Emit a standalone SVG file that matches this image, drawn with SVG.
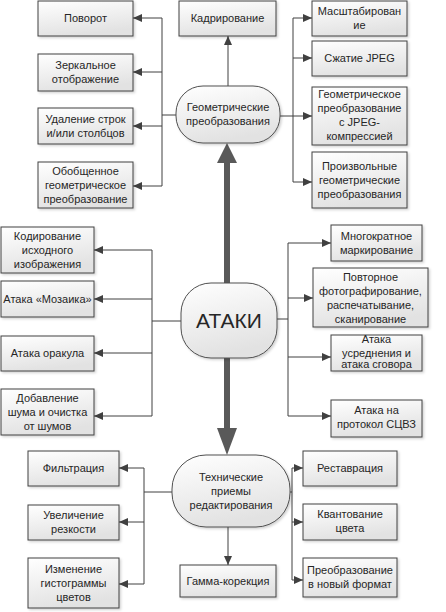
<svg xmlns="http://www.w3.org/2000/svg" width="446" height="612" viewBox="0 0 446 612">
<defs>
<linearGradient id="g" x1="0" y1="0" x2="0.3" y2="1">
<stop offset="0" stop-color="#ffffff"/>
<stop offset="1" stop-color="#e2e2e2"/>
</linearGradient>
<filter id="sh" x="-10%" y="-10%" width="130%" height="130%">
<feDropShadow dx="1.5" dy="1.5" stdDeviation="1" flood-color="#000" flood-opacity="0.18"/>
</filter>
<marker id="ah" markerWidth="9" markerHeight="8" refX="9" refY="4" orient="auto" markerUnits="userSpaceOnUse">
<path d="M0,0 L9,4 L0,8 Z" fill="#404040"/>
</marker>
</defs>
<style>
.box{fill:url(#g);stroke:#404040;stroke-width:1;filter:url(#sh)}
.hub{fill:url(#g);stroke:#505050;stroke-width:1;filter:url(#sh)}
.t{font-family:"Liberation Sans",Arial,sans-serif;font-size:11px;fill:#262626;text-anchor:middle}
.big{font-family:"Liberation Sans",Arial,sans-serif;font-size:21px;fill:#262626;text-anchor:middle}
.c{stroke:#404040;stroke-width:1;fill:none}
.a{stroke:#404040;stroke-width:1;fill:none;marker-end:url(#ah)}
.thick{fill:#595959}
</style>
<g id="connectors">
<!-- geometric left -->
<path class="c" d="M176,115 H162 M162,18 V186"/>
<path class="a" d="M162,18 H133"/>
<path class="a" d="M162,72 H133"/>
<path class="a" d="M162,126 H133"/>
<path class="a" d="M162,186 H133"/>
<!-- geometric top -->
<path class="a" d="M228,86 V36"/>
<!-- geometric right -->
<path class="c" d="M280,116 H293 M293,18 V182"/>
<path class="a" d="M293,18 H312"/>
<path class="a" d="M293,58 H312"/>
<path class="a" d="M293,116 H312"/>
<path class="a" d="M293,182 H312"/>
<!-- attacks left -->
<path class="c" d="M181,321 H152 M152,250 V416"/>
<path class="a" d="M152,250 H94"/>
<path class="a" d="M152,299 H94"/>
<path class="a" d="M152,353 H94"/>
<path class="a" d="M152,416 H94"/>
<!-- attacks right -->
<path class="c" d="M277,319 H288 M288,243 V416"/>
<path class="a" d="M288,243 H331"/>
<path class="a" d="M288,298 H313"/>
<path class="a" d="M288,357 H331"/>
<path class="a" d="M288,416 H331"/>
<!-- thick arrows -->
<rect class="thick" x="224" y="162" width="6" height="121"/>
<path class="thick" d="M217,163 L227,143 L237,163 Z"/>
<rect class="thick" x="224" y="358" width="6" height="72"/>
<path class="thick" d="M217,428 L227,455 L237,428 Z"/>
<!-- technical left -->
<path class="c" d="M172,492 H144 M144,468 V584"/>
<path class="a" d="M144,468 H119"/>
<path class="a" d="M144,522 H119"/>
<path class="a" d="M144,584 H119"/>
<!-- technical bottom -->
<path class="a" d="M228,527 V565"/>
<!-- technical right -->
<path class="c" d="M290,492 H292 M292,468 V580"/>
<path class="a" d="M292,468 H303"/>
<path class="a" d="M292,522 H303"/>
<path class="a" d="M292,580 H303"/>
</g>

<g id="n-geom"><rect class="hub" x="176" y="86" width="104" height="57" rx="27"/>
<text class="t" x="228" y="111">Геометрические</text><text class="t" x="228" y="125">преобразования</text></g>
<g id="n-attacks"><rect class="hub" x="181" y="283" width="96" height="75" rx="30"/>
<text class="big" x="229" y="328">АТАКИ</text></g>
<g id="n-tech"><rect class="hub" x="172" y="455" width="118" height="72" rx="34"/>
<text class="t" x="231" y="481">Технические</text><text class="t" x="231" y="495">приемы</text><text class="t" x="231" y="509">редактирования</text></g>

<g id="n-povorot"><rect class="box" x="38" y="1" width="95" height="35"/><text class="t" x="85.5" y="22">Поворот</text></g>
<g id="n-mirror"><rect class="box" x="38" y="54" width="95" height="37"/><text class="t" x="85.5" y="69">Зеркальное</text><text class="t" x="85.5" y="83">отображение</text></g>
<g id="n-remove"><rect class="box" x="38" y="108" width="95" height="36"/><text class="t" x="85.5" y="123">Удаление строк</text><text class="t" x="85.5" y="137">и/или столбцов</text></g>
<g id="n-general"><rect class="box" x="38" y="162" width="95" height="46"/><text class="t" x="85.5" y="175">Обобщенное</text><text class="t" x="85.5" y="189">геометрическое</text><text class="t" x="85.5" y="203">преобразование</text></g>

<g id="n-crop"><rect class="box" x="179" y="1" width="97" height="35"/><text class="t" x="227.5" y="22">Кадрирование</text></g>

<g id="n-scale"><rect class="box" x="312" y="1" width="95" height="35"/><text class="t" x="359.5" y="15">Масштабирован</text><text class="t" x="359.5" y="29">ие</text></g>
<g id="n-jpeg"><rect class="box" x="312" y="41" width="95" height="35"/><text class="t" x="359.5" y="62">Сжатие JPEG</text></g>
<g id="n-geojpeg"><rect class="box" x="312" y="87" width="95" height="58"/><text class="t" x="359.5" y="98">Геометрическое</text><text class="t" x="359.5" y="112">преобразование</text><text class="t" x="359.5" y="126">с JPEG-</text><text class="t" x="359.5" y="140">компрессией</text></g>
<g id="n-arbitrary"><rect class="box" x="312" y="152" width="95" height="56"/><text class="t" x="359.5" y="170">Произвольные</text><text class="t" x="359.5" y="184">геометрические</text><text class="t" x="359.5" y="198">преобразования</text></g>

<g id="n-coding"><rect class="box" x="1" y="227" width="93" height="46"/><text class="t" x="47.5" y="240">Кодирование</text><text class="t" x="47.5" y="254">исходного</text><text class="t" x="47.5" y="268">изображения</text></g>
<g id="n-mosaic"><rect class="box" x="1" y="281" width="93" height="36"/><text class="t" x="47.5" y="303">Атака «Мозаика»</text></g>
<g id="n-oracle"><rect class="box" x="1" y="336" width="93" height="35"/><text class="t" x="47.5" y="357">Атака оракула</text></g>
<g id="n-noise"><rect class="box" x="1" y="389" width="93" height="46"/><text class="t" x="47.5" y="402">Добавление</text><text class="t" x="47.5" y="416">шума и очистка</text><text class="t" x="47.5" y="430">от шумов</text></g>

<g id="n-multi"><rect class="box" x="331" y="225" width="91" height="36"/><text class="t" x="376.5" y="240">Многократное</text><text class="t" x="376.5" y="254">маркирование</text></g>
<g id="n-rephoto"><rect class="box" x="313" y="268" width="115" height="59"/><text class="t" x="370.5" y="281">Повторное</text><text class="t" x="370.5" y="295">фотографирование,</text><text class="t" x="370.5" y="309">распечатывание,</text><text class="t" x="370.5" y="323">сканирование</text></g>
<g id="n-avg"><rect class="box" x="331" y="335" width="91" height="36"/><text class="t" x="376.5" y="343">Атака</text><text class="t" x="376.5" y="357">усреднения и</text><text class="t" x="376.5" y="371" dy="-3">атака сговора</text></g>
<g id="n-protocol"><rect class="box" x="331" y="400" width="91" height="37"/><text class="t" x="376.5" y="414">Атака на</text><text class="t" x="376.5" y="428">протокол СЦВЗ</text></g>

<g id="n-filter"><rect class="box" x="28" y="451" width="91" height="35"/><text class="t" x="73.5" y="472">Фильтрация</text></g>
<g id="n-sharp"><rect class="box" x="28" y="505" width="91" height="35"/><text class="t" x="73.5" y="519">Увеличение</text><text class="t" x="73.5" y="533">резкости</text></g>
<g id="n-hist"><rect class="box" x="28" y="558" width="91" height="50"/><text class="t" x="73.5" y="573">Изменение</text><text class="t" x="73.5" y="587">гистограммы</text><text class="t" x="73.5" y="601">цветов</text></g>

<g id="n-gamma"><rect class="box" x="180" y="565" width="96" height="32"/><text class="t" x="228" y="585">Гамма-корекция</text></g>

<g id="n-restore"><rect class="box" x="303" y="451" width="94" height="35"/><text class="t" x="350" y="472">Реставрация</text></g>
<g id="n-quant"><rect class="box" x="303" y="504" width="94" height="36"/><text class="t" x="350" y="518">Квантование</text><text class="t" x="350" y="532">цвета</text></g>
<g id="n-format"><rect class="box" x="303" y="558" width="94" height="39"/><text class="t" x="350" y="574">Преобразование</text><text class="t" x="350" y="588">в новый формат</text></g>
</svg>
